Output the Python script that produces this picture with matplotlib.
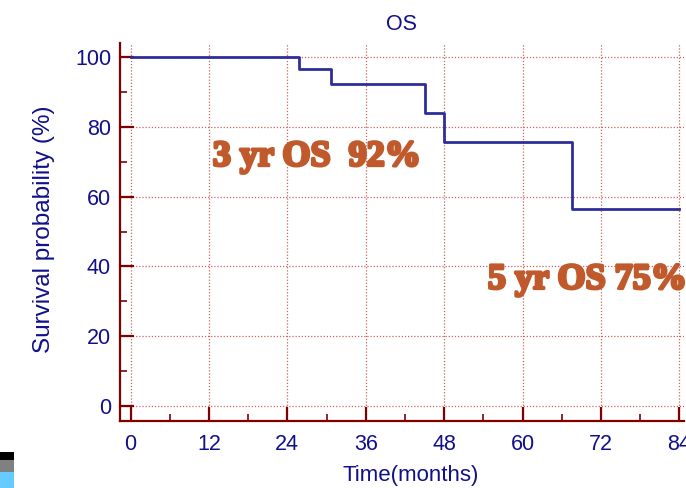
"""
Kaplan-Meier overall survival curve, redrawn from the OS figure.
"""

import matplotlib.pyplot as plt
import matplotlib.patheffects as pe
from matplotlib.patches import Rectangle
from matplotlib.ticker import MultipleLocator

# step curve (months, % surviving)
months = [0, 25.8, 30.7, 45.0, 48.0, 67.6, 84.0]
survival = [100, 96.5, 92.3, 83.9, 75.5, 56.5, 56.5]

x_ticks = [0, 12, 24, 36, 48, 60, 72, 84]
y_ticks = [0, 20, 40, 60, 80, 100]

notes = ["3 yr OS  92%", "5 yr OS 75%"]
note_pos = [(12.6, 71.3), (54.7, 36.1)]

navy = "#10108a"
axis_red = "#800000"
grid_red = "#c86464"
note_color = "#c05a2c"

fig = plt.figure(figsize=(6.86, 4.88), dpi=100)
ax = fig.add_axes([0.175, 0.137, 0.822, 0.775])

ax.step(months, survival, where="post", color="#2e2e9a", lw=2.0, zorder=3)

ax.set_xlim(-1.6, 84.7)
ax.set_ylim(-4.3, 104)
ax.set_xticks(x_ticks)
ax.set_yticks(y_ticks)
ax.xaxis.set_minor_locator(MultipleLocator(6))
ax.yaxis.set_minor_locator(MultipleLocator(10))

ax.grid(True, which="major", color=grid_red, linestyle=(0, (1, 1.5)), lw=0.9)
ax.set_axisbelow(True)

for side in ["top", "right"]:
    ax.spines[side].set_visible(False)
for side in ["left", "bottom"]:
    ax.spines[side].set_color(axis_red)
    ax.spines[side].set_linewidth(1.6)

ax.tick_params(which="major", direction="in", length=10, width=1.6, color=axis_red,
               labelcolor=navy, labelsize=15.5)
ax.tick_params(which="minor", direction="in", length=5, width=1.2, color=axis_red)
ax.tick_params(axis="x", pad=9)
ax.tick_params(axis="y", pad=6.5)
for lab in ax.get_xticklabels() + ax.get_yticklabels():
    lab.set_family("Liberation Sans")

ax.set_xlabel("Time(months)", color=navy, fontsize=16, family="Liberation Sans")
ax.set_ylabel("Survival probability (%)", color=navy, fontsize=17.5, family="Liberation Sans")
ax.xaxis.set_label_coords(0.516, -0.116)
ax.yaxis.set_label_coords(-0.115, 0.508)
ax.set_title("OS", color=navy, fontsize=15.5, family="Liberation Sans", pad=9)

heavy = [pe.withStroke(linewidth=2.2, foreground=note_color)]
for text, (tx, ty) in zip(notes, note_pos):
    ax.text(tx, ty, text, color=note_color, fontsize=26, fontweight="bold",
            family="Liberation Serif", ha="left", va="center", clip_on=False,
            path_effects=heavy)

# little colour swatches in the bottom-left corner of the original export
swatches = [("#000000", 452, 460), ("#808080", 460, 472), ("#66ccff", 472, 488)]
for col, top, bot in swatches:
    fig.patches.append(Rectangle((0, 1 - bot / 488), 14 / 686, (bot - top) / 488,
                                 transform=fig.transFigure, color=col, lw=0))

fig.savefig("out.png", dpi=100)
